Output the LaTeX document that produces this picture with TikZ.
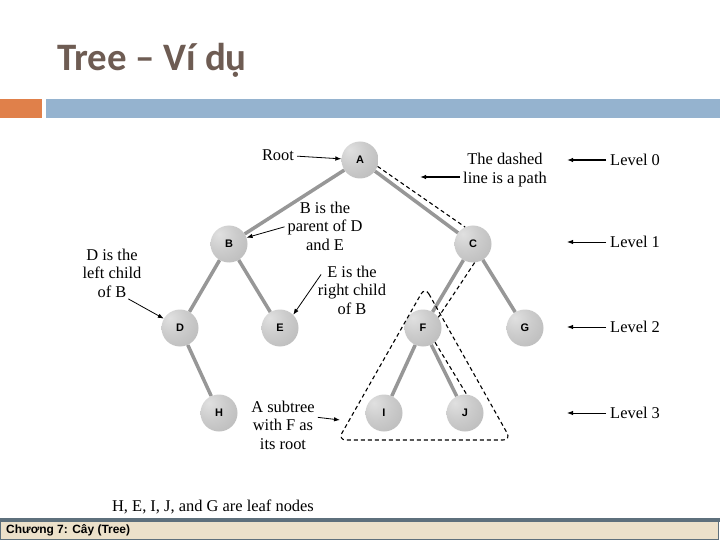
\documentclass[tikz,border=0pt]{standalone}
\usepackage{fontspec}
\setmainfont{Liberation Serif}
\newfontfamily\titlefont{Carlito}
\newfontfamily\footfont{Liberation Sans}
\usetikzlibrary{positioning,arrows.meta,calc}
\definecolor{titlegray}{HTML}{6E5C53}
\definecolor{barorange}{HTML}{E0804A}
\definecolor{barblue}{HTML}{95B3CF}
\definecolor{edgegray}{HTML}{979797}
\definecolor{footbeige}{HTML}{ECE1CA}
\definecolor{footslate}{HTML}{5E707C}
\pgfdeclareradialshading{greyball}{\pgfpoint{-14bp}{14bp}}{%
  color(0bp)=(gray!24); color(20bp)=(gray!40); color(45bp)=(gray!55);
  color(66bp)=(gray!72); color(100bp)=(gray!72)}

\begin{document}
\begin{tikzpicture}[x=1bp, y=-1bp,
  ball/.style={circle, minimum size=37bp, inner sep=0pt, shading=greyball,
    text=black, font=\footfont\bfseries\fontsize{11}{11}\selectfont},
  link/.style={draw=edgegray, line width=3.5bp},
  pathline/.style={dash pattern=on 4bp off 3bp, line width=1.1bp},
  lbl/.style={font=\fontsize{16.5}{18.5}\selectfont, align=center, inner sep=0pt},
  note/.style={->, line width=0.8bp, shorten <=3bp},
  >={Latex[length=6bp,width=4.5bp]}]
  \useasboundingbox (0,0) rectangle (720,540);
  \fill[white] (0,0) rectangle (720,540);

  % title and bars
  \node[anchor=base west, inner sep=0pt, text=titlegray,
    font=\titlefont\bfseries\fontsize{39}{39}\selectfont] (title) at (57,71) {Tree – Ví dụ};
  \fill[barorange] (0,99) rectangle (42,118);
  \fill[barblue] (46,99) rectangle (720,118);

  % tree
  \node[ball] (A) at (360,160) {A};
  \node[ball] (B) at (229,244) {B};
  \node[ball] (C) at (473,244) {C};
  \node[ball] (D) at (180,328) {D};
  \node[ball] (E) at (280,328) {E};
  \node[ball] (F) at (423,328) {F};
  \node[ball] (G) at (525,328) {G};
  \node[ball] (H) at (219,413) {H};
  \node[ball] (I) at (384,413) {I};
  \node[ball] (J) at (465,413) {J};
  \foreach \p/\c in {A/B,A/C,B/D,B/E,C/F,C/G,D/H,F/I,F/J}
    \draw[link] (\p) -- (\c);

  % path A-C-F-J and subtree
  \draw[pathline] (A.-20) -- (C.115);
  \draw[pathline] (C.-85) -- (F.35);
  \draw[pathline] (F.-50) -- (J.85);
  \draw[pathline, rounded corners=8bp] (425,287) -- (511,440) -- (338,440) -- cycle;

  % notes
  \node[lbl] (root) at (278,155) {Root};
  \draw[note] (root) -- (A);
  \node[lbl] (pathtxt) at (505,170) {The dashed\\line is a path};
  \coordinate (pathtip) at (420,177);
  \draw[note, line width=1.6bp] (pathtxt.west |- pathtip) -- (pathtip);
  \node[lbl] (par) at (325,226) {B is the\\parent of D\\and E};
  \draw[note] (par.west) -- (B.20);
  \node[lbl] (dtxt) at (112,273) {D is the\\left child\\of B};
  \draw[note] ([xshift=-16bp]dtxt.south east) -- (D.150);
  \node[lbl] (etxt) at (352,290) {E is the\\right child\\of B};
  \draw[note] ([xshift=5bp,yshift=18bp]etxt.west) -- (E.45);
  \node[lbl] (subtxt) at (283,425) {A subtree\\with F as\\its root};
  \coordinate (subtip) at (340,420);
  \draw[note] ([yshift=8bp]subtxt.east) -- (subtip);
  \node[lbl] (leaf) at (213,507) {H, E, I, J, and G are leaf nodes};

  % levels
  \foreach \lv/\ly/\lw in {0/160/1.6,1/242/0.9,2/327/0.9,3/413/0.9} {
    \node[lbl, anchor=west] (lev\lv) at (610,\ly) {Level \lv};
    \coordinate (levtip\lv) at (567,\ly);
    \draw[->, line width=\lw bp] ([xshift=-4bp]lev\lv.west) -- (levtip\lv);
  }

  % footer
  \fill[footbeige] (0,520) rectangle (718,539);
  \draw[footslate, line width=1bp] (0.5,520) rectangle (718,539.5);
  \fill[footslate] (0,518) rectangle (720,521.5);
  \node[anchor=west, inner sep=0pt, font=\footfont\bfseries\fontsize{12}{12}\selectfont]
    (foot) at (6,530.5) {Chương 7: Cây (Tree)};
\end{tikzpicture}
\end{document}
